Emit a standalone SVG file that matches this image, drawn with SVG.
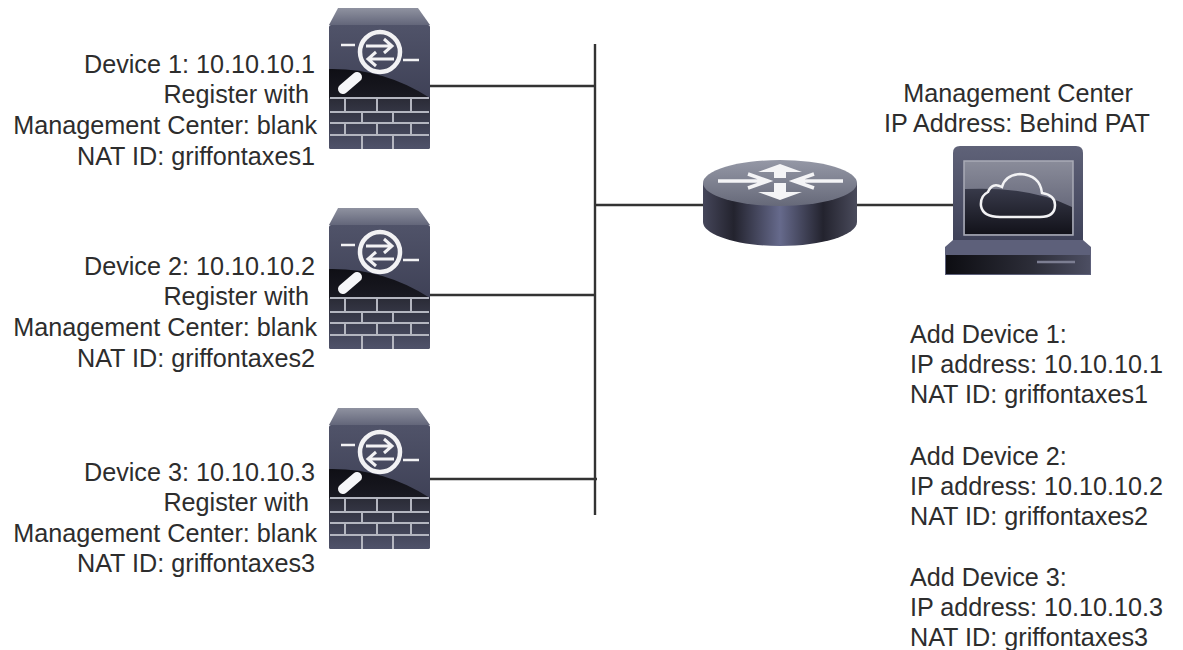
<svg xmlns="http://www.w3.org/2000/svg" xmlns:xlink="http://www.w3.org/1999/xlink" width="1183" height="650" viewBox="0 0 1183 650">
<style>
text{font-family:"Liberation Sans",Arial,sans-serif;font-size:25.2px;fill:#2d2d2d}
.r{text-anchor:end}.m{text-anchor:middle}
.c{stroke:#333;stroke-width:2.4;fill:none}
.w{stroke:#f2f2f4;fill:none}
.b{stroke:#b4b6c0;fill:none;stroke-width:2}
</style>
<defs>
<linearGradient id="fwTop" x1="0" y1="0" x2="0" y2="1"><stop offset="0" stop-color="#8f92a0"/><stop offset="1" stop-color="#63667a"/></linearGradient>
<linearGradient id="fwBody" x1="0" y1="0" x2="0" y2="1"><stop offset="0" stop-color="#505369"/><stop offset="1" stop-color="#33354a"/></linearGradient>
<linearGradient id="fwDark" x1="0" y1="0" x2="0" y2="1"><stop offset="0" stop-color="#0f0f15"/><stop offset="1" stop-color="#1d1d26"/></linearGradient>
<linearGradient id="fwWall" x1="0" y1="0" x2="0" y2="1"><stop offset="0" stop-color="#2a2b36"/><stop offset="1" stop-color="#4f526a"/></linearGradient>
<linearGradient id="rtSide" x1="0" y1="0" x2="1" y2="0"><stop offset="0" stop-color="#45465a"/><stop offset="0.2" stop-color="#23232e"/><stop offset="0.5" stop-color="#666a8c"/><stop offset="0.78" stop-color="#23232e"/><stop offset="1" stop-color="#4a4b5c"/></linearGradient>
<linearGradient id="rtTop" x1="0" y1="0" x2="0" y2="1"><stop offset="0" stop-color="#9598a6"/><stop offset="1" stop-color="#666979"/></linearGradient>
<linearGradient id="mon" x1="0" y1="0" x2="0" y2="1"><stop offset="0" stop-color="#5f6278"/><stop offset="1" stop-color="#3f4259"/></linearGradient>
<linearGradient id="scr" x1="0" y1="0" x2="0" y2="1"><stop offset="0" stop-color="#8a8c9a"/><stop offset="1" stop-color="#54566a"/></linearGradient>
<linearGradient id="scrD" x1="0" y1="0" x2="0" y2="1"><stop offset="0" stop-color="#383a4a"/><stop offset="1" stop-color="#12121a"/></linearGradient>
<linearGradient id="slot" x1="0" y1="0" x2="1" y2="0"><stop offset="0" stop-color="#0d0d12"/><stop offset="0.6" stop-color="#2c2d38"/><stop offset="1" stop-color="#4c4e62"/></linearGradient>
<symbol id="fw" width="110" height="150" viewBox="0 0 110 150" overflow="visible">
<path d="M9 0H89L101 17H0Z" fill="url(#fwTop)"/>
<rect x="0" y="17" width="101" height="124" rx="2" fill="url(#fwBody)"/>
<path d="M0 61Q55 60 101 90V100H0Z" fill="url(#fwDark)"/>
<path d="M0 90H101V139Q101 141 99 141H2Q0 141 0 139Z" fill="url(#fwWall)"/>
<path class="w" d="M12 37H26M74 52H90" stroke-width="2.500"/>
<circle class="w" cx="51" cy="44" r="20" stroke-width="4.500"/>
<path class="w" d="M37 38H62M55 31L63 38L55 45M65 51H41M47 44L39 51L47 58" stroke-width="3"/>
<path d="M14 81L28 69" stroke="#f6f6f8" stroke-width="10" stroke-linecap="round"/>
<path class="b" d="M1 90H100M1 104H100M1 115H100M1 127H100M16 90V104M48 90V104M82 90V104M33 104V115M64 104V115M16 115V127M48 115V127M82 115V127M33 127V141M64 127V141"/>
</symbol>
</defs>
<g id="connectors">
<path class="c" d="M595 44V515M427 86H595M427 295H595M427 479H597M595 205H703M857 205H953"/>
</g>
<g id="device1"><use href="#fw" xlink:href="#fw" x="329" y="8"/>
<text class="r" x="315" y="73">Device 1: 10.10.10.1</text><text class="r" x="309" y="103">Register with</text><text class="r" x="317" y="134">Management Center: blank</text><text class="r" x="315" y="165">NAT ID: griffontaxes1</text></g>
<g id="device2"><use href="#fw" xlink:href="#fw" x="329" y="208"/>
<text class="r" x="315" y="275">Device 2: 10.10.10.2</text><text class="r" x="309" y="305">Register with</text><text class="r" x="317" y="336">Management Center: blank</text><text class="r" x="315" y="367">NAT ID: griffontaxes2</text></g>
<g id="device3"><use href="#fw" xlink:href="#fw" x="329" y="408"/>
<text class="r" x="315" y="481">Device 3: 10.10.10.3</text><text class="r" x="309" y="511">Register with</text><text class="r" x="317" y="542">Management Center: blank</text><text class="r" x="315" y="572">NAT ID: griffontaxes3</text></g>
<g id="router">
<path d="M703 183V222C703 235 738 246 780 246C822 246 857 235 857 222V183Z" fill="url(#rtSide)"/>
<ellipse cx="780" cy="183" rx="77" ry="23" fill="url(#rtTop)"/>
<path fill="none" stroke="#f4f4f6" stroke-width="3.500" d="M718 181H766M748 174L768 181L748 188M843 181H795M814 174L794 181L814 188"/>
<path fill="#f4f4f6" d="M774 178V172H758L780 164L802 172H786V178ZM774 183V192H758L780 200L802 192H786V183Z"/>
</g>
<g id="management-center">
<path d="M953 240V153Q953 146 960 146H1076Q1083 146 1083 153V240Z" fill="url(#mon)"/>
<rect x="964" y="161" width="109" height="74" fill="url(#scr)" stroke="#a9abb6" stroke-width="1.500"/>
<path d="M965 189Q1030 186 1072 207V234H965Z" fill="url(#scrD)"/>
<path d="M953 240H1083L1091 247V275H945V247Z" fill="#5d607a"/>
<path d="M946 255H1090V274H946Z" fill="url(#slot)"/>
<path d="M1037 262H1075" stroke="#7c7e92" stroke-width="2.500"/>
<path d="M1000 217H1040Q1055 217 1055 205Q1055 195 1042 193Q1040 175 1020 174Q1005 175 1002 187Q992 182 988 192Q980 196 981 206Q983 217 1000 217Z" fill="none" stroke="#f2f2f4" stroke-width="2.500"/>
<text class="m" x="1018" y="102">Management Center</text>
<text class="m" x="1017" y="132">IP Address: Behind PAT</text>
</g>
<g id="add-list">
<text x="910" y="343">Add Device 1:</text><text x="910" y="373">IP address: 10.10.10.1</text><text x="910" y="403">NAT ID: griffontaxes1</text>
<text x="910" y="465">Add Device 2:</text><text x="910" y="495">IP address: 10.10.10.2</text><text x="910" y="525">NAT ID: griffontaxes2</text>
<text x="910" y="586">Add Device 3:</text><text x="910" y="616">IP address: 10.10.10.3</text><text x="910" y="646">NAT ID: griffontaxes3</text>
</g>
</svg>
